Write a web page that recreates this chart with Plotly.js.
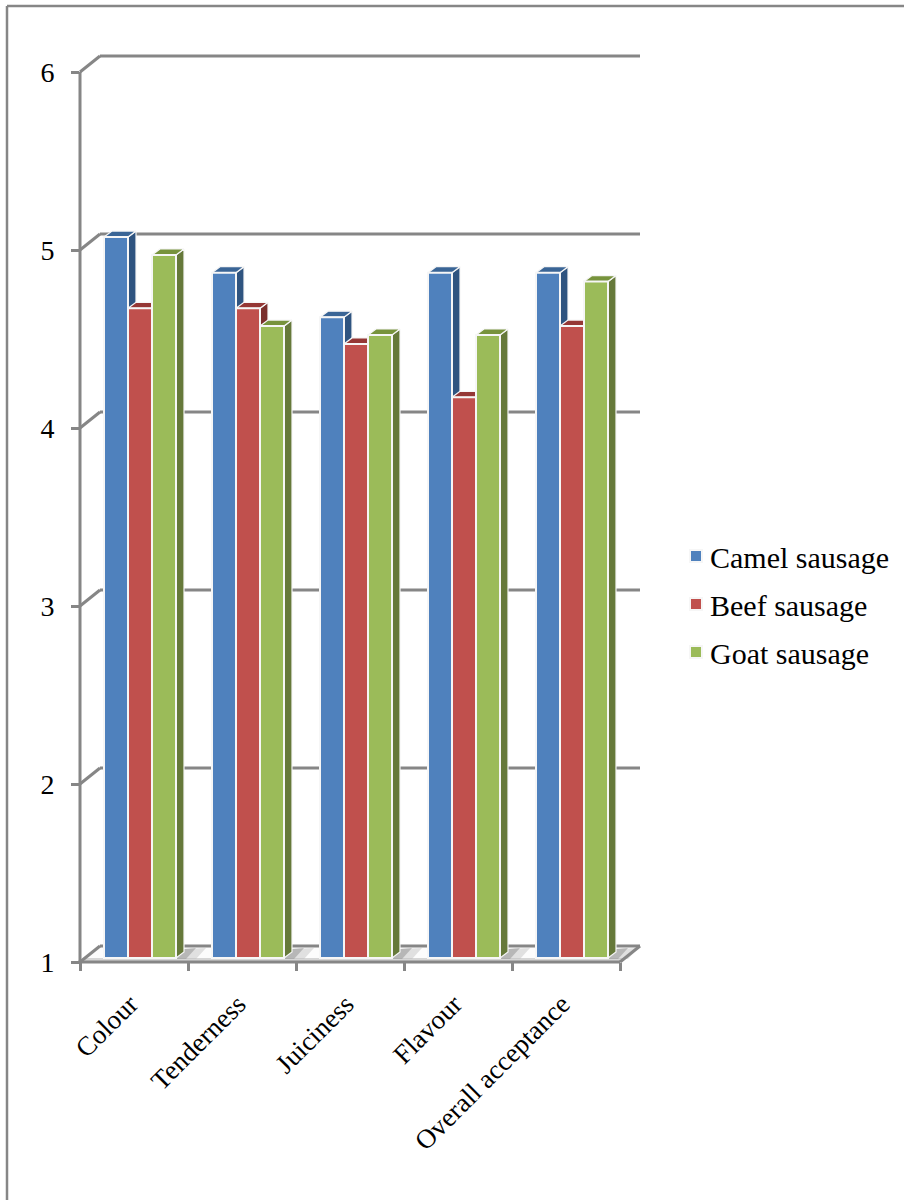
<!DOCTYPE html>
<html>
<head>
<meta charset="utf-8">
<script src="https://cdn.plot.ly/plotly-3.0.1.min.js"></script>
<style>html,body{margin:0;padding:0;background:#fff}#chart{width:904px;height:1200px}</style>
</head>
<body>
<div id="chart"></div>
<script>
// Sensory scores for the three sausages
const categories = ["Colour", "Tenderness", "Juiciness", "Flavour", "Overall acceptance"];
const camel = [5.05, 4.85, 4.6, 4.85, 4.85];
const beef = [4.65, 4.65, 4.45, 4.15, 4.55];
const goat = [4.95, 4.55, 4.5, 4.5, 4.8];
const seriesNames = ["Camel sausage", "Beef sausage", "Goat sausage"];
const yTicks = [1, 2, 3, 4, 5, 6];

// Chart box in page pixels and the extruded-column geometry
const W = 904, H = 1200;
const L = 80, R = 640, T = 56, B = 962;
const UNIT = 178, STEP = 108;          // pixels per score unit / per category
const WALL_X = 20, WALL_Y = 16;        // offset of the back wall from the front axes
const BAR_X = 6, BAR_Y = 4;            // offset of the column plane from the front axes
const DEPTH_X = 8, DEPTH_Y = 6;        // column depth
const SLOT = 24;                       // column width

const front = ["#4F81BD", "#C0504D", "#9BBB59"];
const side = ["#2F5480", "#7A2E2C", "#66793A"];
const top_ = ["#3A6596", "#953735", "#77933C"];
const AXIS = "#868686";
const EDGE = "#F6F6F6";
const SERIF = '"Liberation Serif", "Times New Roman", serif';

const plotW = R - L, plotH = B - T;
const xFrac = px => (px - L) / plotW;
const yFrac = px => (B - px) / plotH;
const yPx = v => B - (v - 1) * UNIT;   // front-plane pixel row of a score

const yFrontRange = [1, 1 + plotH / UNIT];
const yBarRange = [1 - BAR_Y / UNIT, 1 - BAR_Y / UNIT + plotH / UNIT];
const xBarStart = -(STEP / 2 + BAR_X) / STEP;
const xBarRange = [xBarStart, xBarStart + plotW / STEP];

// Polygons for the side and top faces of a series, in axis units
function faces(values, j) {
  const dx = DEPTH_X / STEP, dy = DEPTH_Y / UNIT, w = SLOT / STEP;
  const sx = [], sy = [], tx = [], ty = [];
  values.forEach((v, i) => {
    const l = i + (j - 1.5) * w, r = l + w;
    sx.push(r, r + dx, r + dx, r, r, null);
    sy.push(1, 1 + dy, v + dy, v, 1, null);
    tx.push(l, r, r + dx, l + dx, l, null);
    ty.push(v, v, v + dy, v + dy, v, null);
  });
  return [
    {x: sx, y: sy, color: side[j]},
    {x: tx, y: ty, color: top_[j]}
  ];
}

const allSeries = [camel, beef, goat];
const traces = [];

// Carries the category axis
traces.push({type: "scatter", mode: "none", x: categories, y: categories.map(() => 1),
  xaxis: "x", yaxis: "y", showlegend: false, hoverinfo: "skip"});

allSeries.forEach((vals, j) => {
  faces(vals, j).forEach(f => traces.push({
    type: "scatter", mode: "lines", x: f.x, y: f.y, fill: "toself", fillcolor: f.color,
    line: {color: EDGE, width: 1.2}, xaxis: "x2", yaxis: "y2",
    showlegend: false, hoverinfo: "skip"
  }));
});

allSeries.forEach((vals, j) => traces.push({
  type: "bar", name: seriesNames[j], x: categories, y: vals.map(v => v - 1), base: 1,
  customdata: vals, hovertemplate: "%{x}: %{customdata}<extra>" + seriesNames[j] + "</extra>",
  marker: {color: front[j], line: {color: EDGE, width: 2}},
  xaxis: "x3", yaxis: "y3", legendgroup: seriesNames[j]
}));

// Walls, floor and frame
const shapes = [];
const line = (x0, y0, x1, y1, width) => ({type: "line", layer: "below", xref: "paper", yref: "paper",
  x0: xFrac(x0), y0: yFrac(y0), x1: xFrac(x1), y1: yFrac(y1), line: {color: AXIS, width: width || 3}});
const poly = (pts, fill) => ({type: "path", layer: "below", xref: "paper", yref: "paper",
  path: "M" + pts.map(p => xFrac(p[0]) + "," + yFrac(p[1])).join(" L") + " Z",
  fillcolor: fill, line: {width: 0}});

const floorEnd = L + STEP * 5;
// Floor, with a pale band along its front edge
shapes.push(poly([[L, B], [floorEnd, B], [R, B - WALL_Y], [L + WALL_X, B - WALL_Y]], "#FCFCFC"));
shapes.push(poly([[L + 3, B], [floorEnd, B], [floorEnd + 4, B - 4], [L + 6, B - 4]], "#D6D6D6"));
// Soft shadow to the right of each group of columns
categories.forEach((c, i) => {
  const gx = L + BAR_X + STEP * i + STEP / 2 + 1.5 * SLOT;
  shapes.push(poly([[gx, B - 3], [gx + DEPTH_X, B - 13], [gx + 30, B - 14], [gx + 20, B - 3]], "rgba(190,190,190,0.45)"));
  shapes.push(poly([[gx, B - 3], [gx + DEPTH_X, B - 13], [gx + 20, B - 14], [gx + 10, B - 3]], "rgba(150,150,150,0.55)"));
});

// Back wall gridlines with their links to the value axis
yTicks.forEach(v => {
  const y = yPx(v);
  shapes.push(line(L + WALL_X, y - WALL_Y, R, y - WALL_Y));
  shapes.push(line(L, y, L + WALL_X, y - WALL_Y));
});
// Right edge of the floor and the front axis lines
shapes.push(line(floorEnd, B, R, B - WALL_Y));
shapes.push(line(L, yPx(1), L, yPx(6)));
shapes.push(line(L - 1.5, B, floorEnd, B));
// Outer chart frame
shapes.push(line(7, 6, W, 6, 2.5));
shapes.push(line(7, 6, 7, H, 2.5));

const hidden = {showgrid: false, zeroline: false, showticklabels: false, ticks: "", showline: false};

const layout = {
  width: W, height: H,
  margin: {l: L, r: W - R, t: T, b: H - B, pad: 0, autoexpand: false},
  paper_bgcolor: "#fff", plot_bgcolor: "rgba(0,0,0,0)",
  showlegend: true, barmode: "group", bargap: 1 - 3 * SLOT / STEP, bargroupgap: 0,
  font: {family: SERIF, color: "#000"},
  xaxis: {type: "category", categoryorder: "array", categoryarray: categories,
    range: [-0.5, -0.5 + plotW / STEP], tickson: "boundaries", ticks: "outside", ticklen: 8,
    tickwidth: 3, tickcolor: AXIS, tickangle: -45, showgrid: false, zeroline: false, showline: false,
    ticklabelstandoff: 20, ticklabelshift: -4,
    tickfont: {family: SERIF, size: 27, color: "#000"}, fixedrange: true},
  yaxis: {range: yFrontRange, tickmode: "array", tickvals: yTicks, ticktext: yTicks.map(String),
    ticks: "outside", ticklen: 8, tickwidth: 3, tickcolor: AXIS, showgrid: false, zeroline: false,
    showline: false, ticklabelstandoff: 11, tickfont: {family: SERIF, size: 28, color: "#000"}, fixedrange: true},
  xaxis2: Object.assign({overlaying: "x", range: xBarRange, anchor: "y2", fixedrange: true}, hidden),
  yaxis2: Object.assign({overlaying: "y", range: yBarRange, anchor: "x2", fixedrange: true}, hidden),
  xaxis3: Object.assign({type: "category", categoryorder: "array", categoryarray: categories,
    overlaying: "x", range: xBarRange, anchor: "y3", fixedrange: true}, hidden),
  yaxis3: Object.assign({overlaying: "y", range: yBarRange, anchor: "x3", fixedrange: true}, hidden),
  legend: {x: xFrac(670), xanchor: "left", y: yFrac(530), yanchor: "top",
    font: {family: SERIF, size: 30, color: "#000"}, traceorder: "grouped", tracegroupgap: 6,
    bgcolor: "rgba(0,0,0,0)", borderwidth: 0},
  shapes: shapes
};

Plotly.newPlot("chart", traces, layout, {displayModeBar: false, staticPlot: true}).then(gd => {
  // Sit the legend swatches closer to their labels
  gd.querySelectorAll(".legend .legendsymbols").forEach(s => s.setAttribute("transform", "translate(6,0)"));
});
</script>
</body>
</html>
